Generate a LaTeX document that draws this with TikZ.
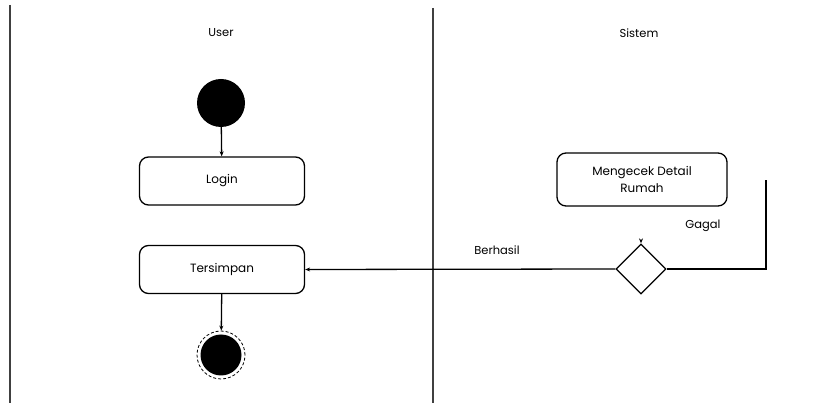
\documentclass[tikz,border=0pt]{standalone}
\usepackage{fontspec}
\setmainfont{Poppins}
\usetikzlibrary{shapes.geometric,arrows.meta}
\begin{document}
\begin{tikzpicture}[x=1pt,y=-1pt,
  lane/.style={draw=black!75,line width=1.8pt},
  act/.style={draw,line width=1.3pt,rounded corners=9pt,minimum width=165pt,minimum height=48pt,inner sep=0pt,align=center,font=\fontsize{12}{17}\selectfont},
  lbl/.style={font=\fontsize{11.5}{13}\selectfont,inner sep=1pt},
  flow/.style={line width=1.3pt,-{Stealth[length=5pt,width=4pt]}},
  plain/.style={line width=1.3pt}]
\useasboundingbox (0,0) rectangle (839,403);
\fill[white] (0,0) rectangle (839,403);
% swimlanes
\coordinate (l1t) at (10,5); \coordinate (l1b) at (10,403);
\coordinate (l2t) at (433,8); \coordinate (l2b) at (433,403);
\draw[lane] (l1t) -- (l1b);
\draw[lane] (l2t) -- (l2b);
\node[lbl] (user) at (221,33) {User};
\node[lbl] (sistem) at (639,33) {Sistem};
% user lane
\node[circle,fill=black,minimum size=48pt,inner sep=0pt] (start) at (221,103) {};
\node[act] (login) at (222,181) {Login};
\node[act] (tersimpan) at (222,269.5) {Tersimpan};
\node[circle,draw,densely dashed,line width=0.8pt,minimum size=48pt,inner sep=0pt] (endo) at (221,355) {};
\node[circle,fill=black,minimum size=41pt,inner sep=0pt] (endi) at (221,355) {};
\draw[flow] (start) -- (login);
\draw[flow] (tersimpan) -- (endo);
% system lane
\node[act,minimum width=170pt,minimum height=53pt] (cek) at (642,179.5) {Mengecek Detail\\Rumah};
\node[diamond,draw,line width=1.3pt,minimum width=50pt,minimum height=50pt,inner sep=0pt,fill=white] (dec) at (641,269) {};
\coordinate (dtop) at (641,240);
\draw[flow] (dtop) -- (dec.north);
\coordinate (gagalend) at (766,180);
\draw[flow] (dec.west) -- (tersimpan.east);
\draw[plain] (dec.east) -| (gagalend);
\node[lbl] (berhasil) at (497,250) {Berhasil};
\node[lbl] (gagal) at (703,226) {Gagal};
\end{tikzpicture}
\end{document}
